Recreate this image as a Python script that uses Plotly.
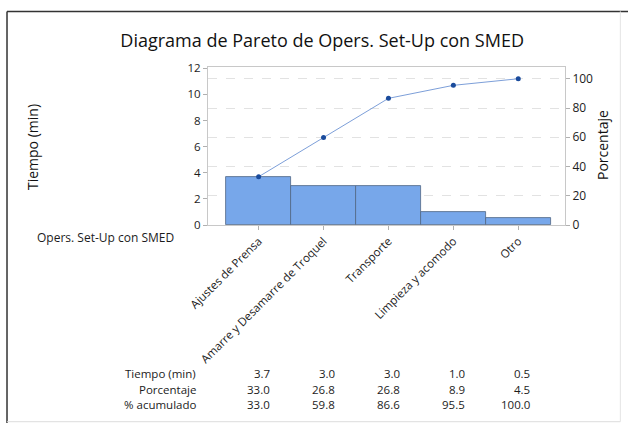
import plotly.graph_objects as go

# Pareto data: set-up operations after SMED
categories = ["Ajustes de Prensa", "Amarre y Desamarre de Troquel", "Transporte",
              "Limpieza y acomodo", "Otro"]
tiempo = [3.7, 3.0, 3.0, 1.0, 0.5]
porcentaje = [33.0, 26.8, 26.8, 8.9, 4.5]
acumulado = [33.0, 59.8, 86.6, 95.5, 100.0]
row_labels = ["Tiempo (min)", "Porcentaje", "% acumulado"]

total = sum(tiempo)
y_max = 12.1
x_idx = list(range(len(categories)))

FONT = "Open Sans"
TXT = "#1c1c1c"

fig = go.Figure()

fig.add_trace(go.Bar(
    x=x_idx, y=tiempo, width=1.0,
    marker=dict(color="#77a7ea", line=dict(color="#4f6683", width=0.8)),
    yaxis="y", showlegend=False, hoverinfo="skip",
))

fig.add_trace(go.Scatter(
    x=x_idx, y=acumulado, yaxis="y2", mode="lines+markers",
    line=dict(color="#7d9fd9", width=1),
    marker=dict(color="#1a4b9c", size=5),
    showlegend=False, hoverinfo="skip",
))

# Summary table below the chart
row_y = [-0.937, -1.038, -1.139]
rows = [
    [f"{v:.1f}" for v in tiempo],
    [f"{v:.1f}" for v in porcentaje],
    [f"{v:.1f}" for v in acumulado],
]
table_font = dict(family=FONT, size=11.5, color=TXT)
annotations = []
for label, yv, vals in zip(row_labels, row_y, rows):
    annotations.append(dict(
        text=label, xref="paper", yref="paper", x=-0.031, y=yv,
        xanchor="right", yanchor="middle", showarrow=False, borderpad=0,
        font=table_font))
    for i, s in enumerate(vals):
        annotations.append(dict(
            text=s, xref="x", yref="paper", x=i + 0.19, y=yv,
            xanchor="right", yanchor="middle", showarrow=False, borderpad=0,
            font=table_font))

annotations += [
    dict(text="Opers. Set-Up con SMED", xref="paper", yref="paper",
         x=-0.0896, y=-0.076, xanchor="right", yanchor="middle", showarrow=False,
         font=dict(family=FONT, size=12, color=TXT)),
    dict(text="Tiempo (min)", xref="paper", yref="paper", x=-0.49, y=0.494,
         textangle=-90, xanchor="center", yanchor="middle", showarrow=False,
         font=dict(family=FONT, size=14, color="#111111")),
    dict(text="Porcentaje", xref="paper", yref="paper", x=1.1036, y=0.506,
         textangle=-90, xanchor="center", yanchor="middle", showarrow=False,
         font=dict(family=FONT, size=14, color="#111111")),
]

shapes = [
    # outer frame
    dict(type="line", xref="paper", yref="paper", x0=-0.563, x1=-0.563,
         y0=1.352, y1=-1.26, line=dict(color="#333333", width=1.5)),
    dict(type="line", xref="paper", yref="paper", x0=-0.563, x1=1.18,
         y0=1.352, y1=1.352, line=dict(color="#333333", width=1.5)),
    dict(type="line", xref="paper", yref="paper", x0=-0.563, x1=1.155,
         y0=-1.245, y1=-1.245, line=dict(color="#dcdcdc", width=1)),
    dict(type="line", xref="paper", yref="paper", x0=1.155, x1=1.155,
         y0=1.352, y1=-1.245, line=dict(color="#e4e4e4", width=1)),
]

fig.update_layout(
    width=628, height=423,
    margin=dict(l=208, r=63, t=67, b=198),
    paper_bgcolor="white", plot_bgcolor="white",
    font=dict(family=FONT, size=12, color=TXT),
    title=dict(text="Diagrama de Pareto de Opers. Set-Up con SMED",
               x=0.513, xref="container", xanchor="center",
               y=1 - 41 / 423, yref="container", yanchor="middle",
               font=dict(family=FONT, size=18, color="#111111")),
    bargap=0,
    xaxis=dict(
        range=[-0.78, 4.72], tickmode="array", tickvals=x_idx, ticktext=categories,
        tickangle=-45, ticks="outside", ticklen=4, tickcolor="#b0b0b0",
        showline=True, linecolor="#c8c8c8", mirror=True, showgrid=False,
        zeroline=False, tickfont=dict(family=FONT, size=11.5, color=TXT),
    ),
    yaxis=dict(
        range=[0, y_max], tickvals=[0, 2, 4, 6, 8, 10, 12],
        ticks="outside", ticklen=4, tickcolor="#b0b0b0",
        showline=True, linecolor="#c8c8c8", showgrid=False, zeroline=False,
        tickfont=dict(family=FONT, size=11.5, color=TXT),
    ),
    yaxis2=dict(
        range=[0, y_max / total * 100], overlaying="y", side="right",
        tickvals=[0, 20, 40, 60, 80, 100],
        ticks="outside", ticklen=4, tickcolor="#b0b0b0",
        showline=True, linecolor="#c8c8c8",
        showgrid=True, gridcolor="#e2e2e2", griddash="dash", gridwidth=1,
        zeroline=False, tickfont=dict(family=FONT, size=12, color=TXT),
    ),
    annotations=annotations,
    shapes=shapes,
)

fig.write_html("out.html")
